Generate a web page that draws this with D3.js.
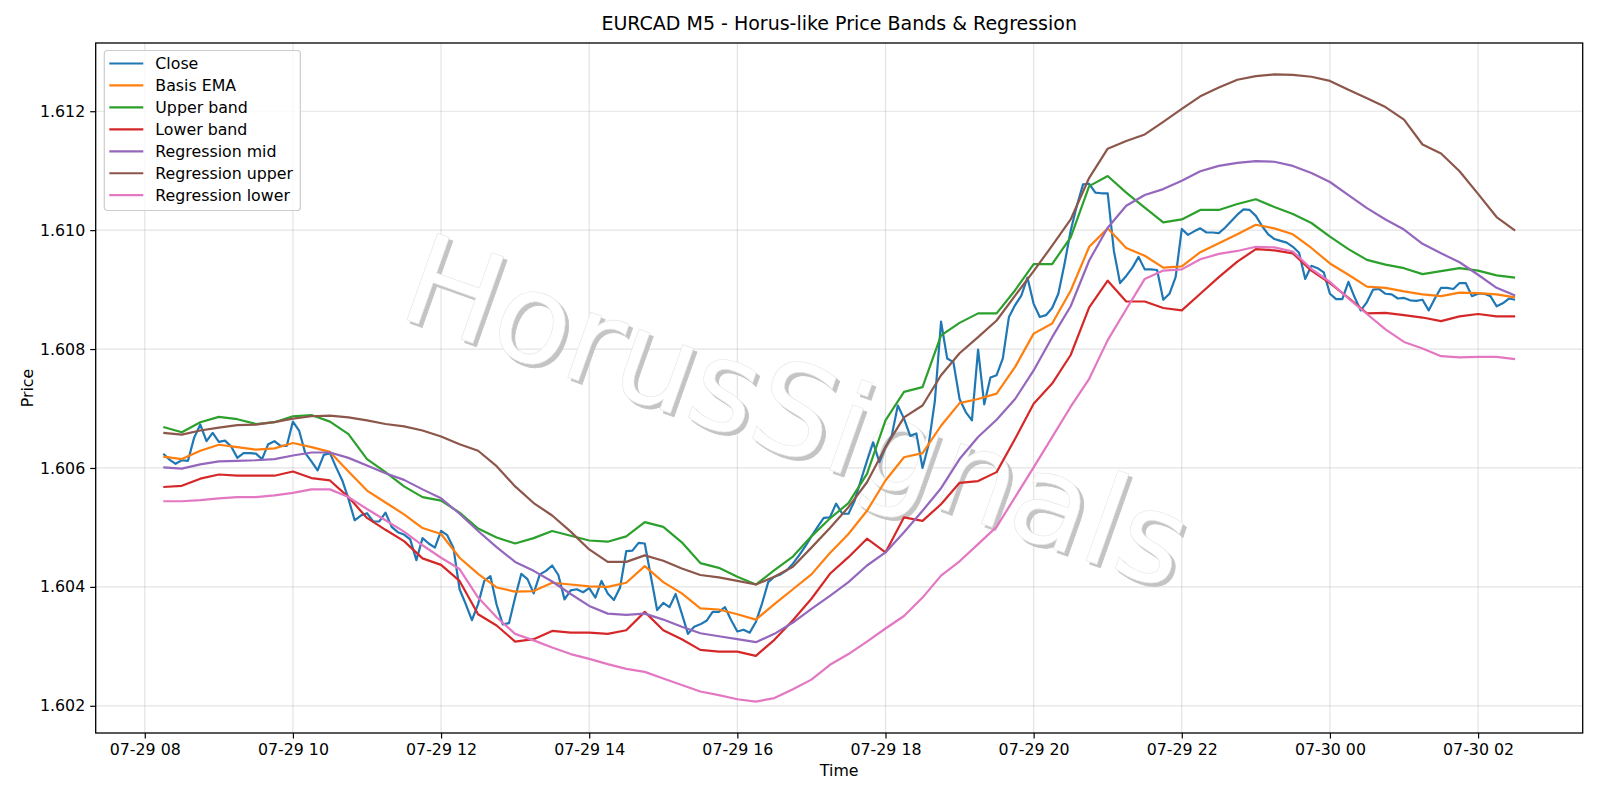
<!DOCTYPE html>
<html>
<head>
<meta charset="utf-8">
<script src="https://cdnjs.cloudflare.com/ajax/libs/d3/7.8.5/d3.min.js"></script>
<style>
  body { margin: 0; background: #fff; }
  text { font-family: "DejaVu Sans", sans-serif; }
</style>
</head>
<body>
<div id="chart"></div>
<script>
// First bar of the session and bar spacing (minutes)
const startTime = new Date(2025, 6, 29, 8, 15);
const closeStep = 5;
const bandStep = 15;

// Close, every 5 minutes
const close = [
  1.60624, 1.60614, 1.60607, 1.60613, 1.60612, 1.60651, 1.60673, 1.60645, 1.60659, 1.60644,
  1.60646, 1.60636, 1.60617, 1.60625, 1.60625, 1.60624, 1.60615, 1.60640, 1.60645, 1.60637,
  1.60637, 1.60678, 1.60663, 1.60625, 1.60611, 1.60596, 1.60622, 1.60625, 1.60601, 1.60579,
  1.60548, 1.60512, 1.60520, 1.60524, 1.60510, 1.60510, 1.60525, 1.60501, 1.60492, 1.60488,
  1.60480, 1.60445, 1.60482, 1.60473, 1.60466, 1.60494, 1.60487, 1.60466, 1.60396, 1.60371,
  1.60344, 1.60371, 1.60410, 1.60418, 1.60370, 1.60337, 1.60339, 1.60382, 1.60422, 1.60413,
  1.60389, 1.60421, 1.60427, 1.60436, 1.60420, 1.60379, 1.60394, 1.60396, 1.60391, 1.60398,
  1.60382, 1.60410, 1.60389, 1.60378, 1.60399, 1.60460, 1.60461, 1.60474, 1.60473, 1.60417,
  1.60361, 1.60373, 1.60366, 1.60388, 1.60355, 1.60321, 1.60333, 1.60337, 1.60343, 1.60358,
  1.60358, 1.60366, 1.60344, 1.60325, 1.60328, 1.60323, 1.60341, 1.60372, 1.60408, 1.60417,
  1.60421, 1.60428, 1.60439, 1.60453, 1.60468, 1.60485, 1.60501, 1.60516, 1.60517, 1.60540,
  1.60523, 1.60523, 1.60545, 1.60579, 1.60612, 1.60643, 1.60610, 1.60635, 1.60654, 1.60705,
  1.60683, 1.60654, 1.60658, 1.60600, 1.60640, 1.60713, 1.60846, 1.60784, 1.60778, 1.60716,
  1.60694, 1.60680, 1.60799, 1.60707, 1.60752, 1.60756, 1.60784, 1.60854, 1.60874, 1.60890,
  1.60920, 1.60876, 1.60854, 1.60857, 1.60869, 1.60893, 1.60943, 1.60999, 1.61041, 1.61077,
  1.61078, 1.61063, 1.61062, 1.61062, 1.60965, 1.60911, 1.60923, 1.60937, 1.60955, 1.60934,
  1.60934, 1.60933, 1.60883, 1.60893, 1.60921, 1.61002, 1.60992, 1.60998, 1.61003, 1.60996,
  1.60996, 1.60995, 1.61004, 1.61015, 1.61026, 1.61035, 1.61034, 1.61024, 1.61007, 1.60993,
  1.60985, 1.60982, 1.60979, 1.60972, 1.60962, 1.60918, 1.60940, 1.60936, 1.60929, 1.60893,
  1.60884, 1.60884, 1.60913, 1.60887, 1.60865, 1.60879, 1.60900, 1.60901, 1.60893, 1.60892,
  1.60885, 1.60886, 1.60882, 1.60881, 1.60883, 1.60865, 1.60885, 1.60903, 1.60903, 1.60901,
  1.60911, 1.60911, 1.60889, 1.60893, 1.60893, 1.60889, 1.60872, 1.60877, 1.60885, 1.60883
];

// Bands, read every 15 minutes
const basisEma = [
  1.60619, 1.60615, 1.60629, 1.60639, 1.60635, 1.60631, 1.60633, 1.60642, 1.60635, 1.60627, 1.60594, 1.60562, 1.60542,
  1.60522, 1.60499, 1.60489, 1.60449, 1.60422, 1.60399, 1.60392, 1.60393, 1.60407, 1.60404, 1.60401, 1.60400, 1.60407,
  1.60435, 1.60408, 1.60389, 1.60364, 1.60362, 1.60354, 1.60345, 1.60371, 1.60396, 1.60421, 1.60457, 1.60489, 1.60528,
  1.60579, 1.60618, 1.60625, 1.60671, 1.60709, 1.60716, 1.60725, 1.60770, 1.60826, 1.60843,
  1.60898, 1.60972, 1.61003, 1.60970, 1.60957, 1.60937, 1.60939, 1.60963, 1.60978, 1.60993, 1.61009, 1.61003, 1.60993,
  1.60970, 1.60944, 1.60925, 1.60905, 1.60903, 1.60897, 1.60892, 1.60889, 1.60895, 1.60894, 1.60892, 1.60887
];

const upperBand = [
  1.60669, 1.60660, 1.60677, 1.60686, 1.60682, 1.60674, 1.60677, 1.60687, 1.60689, 1.60678, 1.60657, 1.60615, 1.60593,
  1.60569, 1.60551, 1.60545, 1.60525, 1.60498, 1.60483, 1.60473, 1.60482, 1.60494, 1.60486, 1.60478, 1.60476, 1.60485,
  1.60509, 1.60501, 1.60475, 1.60440, 1.60432, 1.60417, 1.60404, 1.60428, 1.60451, 1.60485, 1.60515, 1.60541, 1.60590,
  1.60680, 1.60728, 1.60736, 1.60823, 1.60844, 1.60860, 1.60860, 1.60899, 1.60943, 1.60943,
  1.60988, 1.61074, 1.61091, 1.61063, 1.61038, 1.61013, 1.61018, 1.61034, 1.61034, 1.61044, 1.61052, 1.61039, 1.61027,
  1.61012, 1.60989, 1.60968, 1.60950, 1.60942, 1.60936, 1.60926, 1.60931, 1.60936, 1.60932, 1.60924, 1.60920
];

const lowerBand = [
  1.60568, 1.60570, 1.60582, 1.60589, 1.60587, 1.60587, 1.60587, 1.60594, 1.60583, 1.60579, 1.60551, 1.60516, 1.60496,
  1.60477, 1.60448, 1.60437, 1.60410, 1.60354, 1.60335, 1.60308, 1.60312, 1.60326, 1.60323, 1.60323, 1.60321, 1.60327,
  1.60358, 1.60327, 1.60312, 1.60294, 1.60291, 1.60291, 1.60284, 1.60311, 1.60344, 1.60380, 1.60422, 1.60450, 1.60481,
  1.60458, 1.60517, 1.60511, 1.60539, 1.60575, 1.60578, 1.60593, 1.60649, 1.60708, 1.60742,
  1.60790, 1.60870, 1.60915, 1.60880, 1.60880, 1.60869, 1.60865, 1.60893, 1.60921, 1.60947, 1.60968, 1.60966, 1.60961,
  1.60932, 1.60911, 1.60886, 1.60860, 1.60861, 1.60857, 1.60853, 1.60847, 1.60855, 1.60859, 1.60855, 1.60855
];

const regMid = [
  1.60601, 1.60599, 1.60606, 1.60611, 1.60612, 1.60613, 1.60615, 1.60621, 1.60626, 1.60626, 1.60617, 1.60604, 1.60591,
  1.60580, 1.60564, 1.60549, 1.60523, 1.60494, 1.60467, 1.60442, 1.60427, 1.60409, 1.60388, 1.60368, 1.60355, 1.60353,
  1.60355, 1.60345, 1.60333, 1.60322, 1.60317, 1.60312, 1.60307, 1.60321, 1.60340, 1.60363, 1.60385, 1.60408, 1.60436,
  1.60458, 1.60492, 1.60528, 1.60566, 1.60615, 1.60652, 1.60681, 1.60716, 1.60764, 1.60820,
  1.60872, 1.60949, 1.61004, 1.61041, 1.61059, 1.61069, 1.61083, 1.61099, 1.61108, 1.61113, 1.61116, 1.61115, 1.61108,
  1.61096, 1.61081, 1.61059, 1.61037, 1.61018, 1.61001, 1.60977, 1.60961, 1.60946, 1.60925, 1.60903, 1.60890
];

const regUpper = [
  1.60659, 1.60656, 1.60663, 1.60668, 1.60672, 1.60673, 1.60677, 1.60683, 1.60687, 1.60688, 1.60685, 1.60680, 1.60674,
  1.60670, 1.60663, 1.60653, 1.60640, 1.60629, 1.60603, 1.60569, 1.60541, 1.60520, 1.60493, 1.60463, 1.60442, 1.60442,
  1.60453, 1.60444, 1.60431, 1.60420, 1.60416, 1.60410, 1.60404, 1.60417, 1.60434, 1.60466, 1.60499, 1.60534, 1.60576,
  1.60635, 1.60685, 1.60705, 1.60756, 1.60793, 1.60820, 1.60848, 1.60890, 1.60931, 1.60974,
  1.61018, 1.61088, 1.61137, 1.61150, 1.61161, 1.61182, 1.61204, 1.61225, 1.61240, 1.61253, 1.61259, 1.61262, 1.61261,
  1.61258, 1.61251, 1.61236, 1.61222, 1.61207, 1.61186, 1.61144, 1.61129, 1.61099, 1.61061, 1.61022, 1.60999
];

const regLower = [
  1.60544, 1.60544, 1.60546, 1.60549, 1.60551, 1.60551, 1.60554, 1.60558, 1.60564, 1.60564, 1.60551, 1.60531, 1.60512,
  1.60493, 1.60470, 1.60449, 1.60430, 1.60382, 1.60349, 1.60321, 1.60310, 1.60298, 1.60287, 1.60279, 1.60270, 1.60262,
  1.60257, 1.60246, 1.60235, 1.60224, 1.60218, 1.60211, 1.60207, 1.60213, 1.60228, 1.60244, 1.60269, 1.60287, 1.60308,
  1.60330, 1.60351, 1.60382, 1.60419, 1.60443, 1.60472, 1.60501, 1.60551, 1.60601, 1.60652,
  1.60703, 1.60750, 1.60815, 1.60867, 1.60918, 1.60932, 1.60934, 1.60951, 1.60960, 1.60965, 1.60972, 1.60971, 1.60964,
  1.60935, 1.60913, 1.60885, 1.60859, 1.60833, 1.60812, 1.60801, 1.60788, 1.60786, 1.60787, 1.60787, 1.60783
];

const yTicks = [1.602, 1.604, 1.606, 1.608, 1.610, 1.612];

// Set dimensions and margins of the graph
let margin = { top: 43, right: 17.3, bottom: 67, left: 95.7 },
  width = 1600 - margin.left - margin.right,
  height = 800 - margin.top - margin.bottom;

let svg = d3
  .select("#chart")
  .append("svg")
  .attr("width", 1600)
  .attr("height", 800)
  .append("g")
  .attr("transform", `translate(${margin.left}, ${margin.top})`);

let toPoints = (vals, step) =>
  vals.map((v, i) => ({ t: new Date(+startTime + i * step * 60000), v: v }));

let series = [
  { name: "Close", color: "#1f77b4", pts: toPoints(close, closeStep) },
  { name: "Basis EMA", color: "#ff7f0e", pts: toPoints(basisEma, bandStep) },
  { name: "Upper band", color: "#2ca02c", pts: toPoints(upperBand, bandStep) },
  { name: "Lower band", color: "#d62728", pts: toPoints(lowerBand, bandStep) },
  { name: "Regression mid", color: "#9467bd", pts: toPoints(regMid, bandStep) },
  { name: "Regression upper", color: "#8c564b", pts: toPoints(regUpper, bandStep) },
  { name: "Regression lower", color: "#e377c2", pts: toPoints(regLower, bandStep) },
];

// matplotlib style 5% padding on both axes
let all = series.flatMap((s) => s.pts);
let tExt = d3.extent(all, (d) => d.t);
let tPad = (tExt[1] - tExt[0]) * 0.05;
let vExt = d3.extent(all, (d) => d.v);
let vPad = (vExt[1] - vExt[0]) * 0.05;

let x = d3
  .scaleTime()
  .domain([new Date(+tExt[0] - tPad), new Date(+tExt[1] + tPad)])
  .range([0, width]);

let y = d3
  .scaleLinear()
  .domain([vExt[0] - vPad, vExt[1] + vPad])
  .range([height, 0]);

let xTicks = x.ticks(d3.timeHour.every(2));

// Gridlines
svg
  .append("g")
  .selectAll("line")
  .data(xTicks)
  .enter()
  .append("line")
  .attr("x1", (d) => x(d))
  .attr("x2", (d) => x(d))
  .attr("y1", 0)
  .attr("y2", height)
  .attr("stroke", "#b0b0b0")
  .attr("stroke-opacity", 0.35)
  .attr("stroke-width", 1.2);

svg
  .append("g")
  .selectAll("line")
  .data(yTicks)
  .enter()
  .append("line")
  .attr("x1", 0)
  .attr("x2", width)
  .attr("y1", (d) => y(d))
  .attr("y2", (d) => y(d))
  .attr("stroke", "#b0b0b0")
  .attr("stroke-opacity", 0.35)
  .attr("stroke-width", 1.2);

// Watermark: white glyphs with a grey drop shadow
let wmX = 797 - margin.left,
  wmY = 412 - margin.top,
  wmAngle = 19.5;

svg
  .append("text")
  .attr("transform", `translate(${wmX + 3.5},${wmY + 3.5}) rotate(${wmAngle})`)
  .attr("text-anchor", "middle")
  .attr("dominant-baseline", "central")
  .style("font-size", "126px")
  .style("fill", "#c4c4c4")
  .style("stroke", "#c4c4c4")
  .style("stroke-width", 0.8)
  .text("HorusSignals");

svg
  .append("text")
  .attr("transform", `translate(${wmX},${wmY}) rotate(${wmAngle})`)
  .attr("text-anchor", "middle")
  .attr("dominant-baseline", "central")
  .style("font-size", "126px")
  .style("fill", "#ffffff")
  .style("stroke", "#e6e6e6")
  .style("stroke-width", 0.6)
  .text("HorusSignals");

// Lines
let line = d3
  .line()
  .x((d) => x(d.t))
  .y((d) => y(d.v));

svg
  .selectAll(".line")
  .data(series)
  .enter()
  .append("path")
  .attr("class", "line")
  .attr("d", (d) => line(d.pts))
  .attr("fill", "none")
  .attr("stroke", (d) => d.color)
  .attr("stroke-width", 2.2)
  .attr("stroke-linejoin", "round");

// Axes
let xAxis = svg
  .append("g")
  .attr("transform", `translate(0,${height})`)
  .call(
    d3
      .axisBottom(x)
      .tickValues(xTicks)
      .tickFormat(d3.timeFormat("%m-%d %H"))
      .tickSize(5.5)
      .tickPadding(5)
  );

let yAxis = svg.append("g").call(
  d3
    .axisLeft(y)
    .tickValues(yTicks)
    .tickFormat(d3.format(".3f"))
    .tickSize(5.5)
    .tickPadding(5)
);

[xAxis, yAxis].forEach((a) => {
  a.select(".domain").remove();
  a.selectAll(".tick line").attr("stroke", "#000").attr("stroke-width", 1.2);
  a.selectAll(".tick text")
    .style("font-size", "15.8px")
    .style("font-family", "DejaVu Sans")
    .attr("fill", "#000");
});

// Frame
svg
  .append("rect")
  .attr("width", width)
  .attr("height", height)
  .attr("fill", "none")
  .attr("stroke", "#000")
  .attr("stroke-width", 1.3);

// Title
svg
  .append("text")
  .attr("x", width / 2)
  .attr("y", -13)
  .style("text-anchor", "middle")
  .style("font-size", "19px")
  .text("EURCAD M5 - Horus-like Price Bands & Regression");

// Axis labels
svg
  .append("text")
  .attr("x", width / 2)
  .attr("y", height + 43)
  .style("text-anchor", "middle")
  .style("font-size", "15.8px")
  .text("Time");

svg
  .append("text")
  .attr("transform", `translate(${27.6 - margin.left + 5},${height / 2}) rotate(-90)`)
  .style("text-anchor", "middle")
  .style("font-size", "15.8px")
  .text("Price");

// Legend
let legendBox = svg
  .append("g")
  .attr("transform", `translate(${104.3 - margin.left}, ${50.5 - margin.top})`);

legendBox
  .append("rect")
  .attr("width", 196)
  .attr("height", 160)
  .attr("rx", 3)
  .attr("fill", "#fff")
  .attr("fill-opacity", 0.8)
  .attr("stroke", "#cccccc")
  .attr("stroke-width", 1.2);

let legend = legendBox
  .selectAll(".legend")
  .data(series)
  .enter()
  .append("g")
  .attr("class", "legend")
  .attr("transform", (d, i) => `translate(0, ${13 + i * 21.95})`);

legend
  .append("line")
  .attr("x1", 5)
  .attr("x2", 39)
  .attr("stroke", (d) => d.color)
  .attr("stroke-width", 2.2);

legend
  .append("text")
  .attr("x", 51)
  .attr("y", 5.6)
  .style("font-size", "15.8px")
  .text((d) => d.name);
</script>
</body>
</html>
